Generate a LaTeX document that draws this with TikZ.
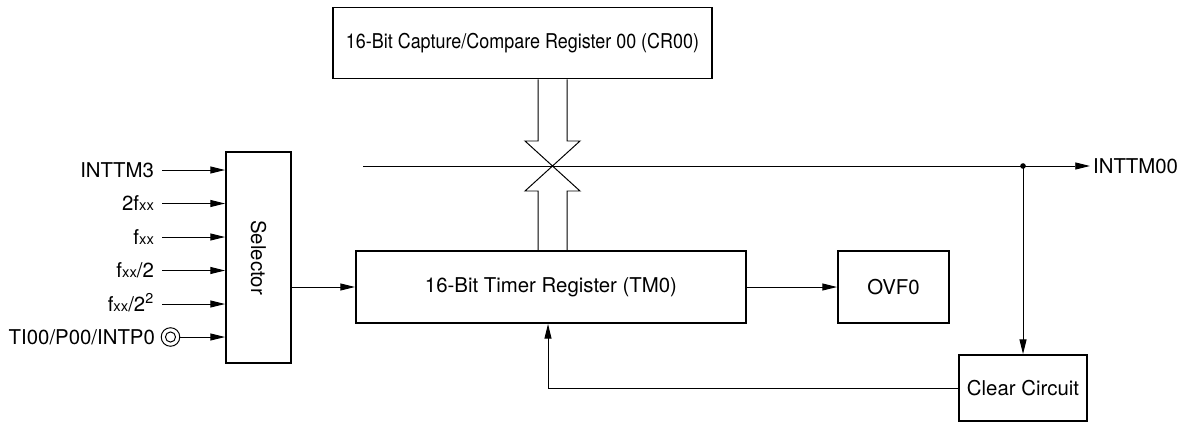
\documentclass[tikz,border=0pt]{standalone}
\usepackage{fontspec}
\setmainfont{TeX Gyre Heros}
\usetikzlibrary{arrows.meta,calc}

\newcommand{\fxx}{f{\fontsize{10.5}{10.5}\selectfont xx}}

\begin{document}
\begin{tikzpicture}[x=0.025cm,y=-0.025cm,
    font=\fontsize{14.5}{17}\selectfont,
    box/.style={draw,line width=1.3pt,inner sep=0pt},
    lbl/.style={inner sep=2pt,text height=10.4pt,text depth=0pt},
    sig/.style={line width=0.7pt,-{Triangle[length=10.5pt,width=5pt]}},
    wire/.style={line width=0.7pt}]

    \useasboundingbox (0,0) rectangle (1194,428);

    \node[box,minimum width=9.475cm,minimum height=1.775cm] (cap) at (522.5,43)
        {\scalebox{0.88}[1]{16-Bit Capture/Compare Register 00 (CR00)}};
    \node[box,minimum width=9.75cm,minimum height=1.8cm] (tmr) at (551,287)
        {16-Bit Timer Register (TM0)};
    \node[box,minimum width=2.775cm,minimum height=1.8cm] (ovf) at (893.5,287) {OVF0};
    \node[box,minimum width=3.2cm,minimum height=1.65cm] (clr) at (1023,388) {Clear Circuit};
    \node[box,minimum width=1.625cm,minimum height=5.275cm] (sel) at (258.5,257.5)
        {\rotatebox{-90}{Selector}};

    % inputs of the selector
    \foreach \txt [count=\i] in {INTTM3, 2\fxx, \fxx, \fxx/2, \fxx/2\textsuperscript{2}} {
        \node[lbl,anchor=east] (in\i) at (157,136.5+33.5*\i) {\txt};
        \draw[sig] ($(in\i.east)+(5,0)$) -- (sel.west |- in\i.east);
    }
    \node[lbl,anchor=east] (ti) at (158,337) {TI00/P00/INTP0};
    \draw[wire] (170.5,337) circle (6.6pt) circle (3.6pt);
    \coordinate (pin) at (180,337);
    \draw[sig] (pin) -- (sel.west |- pin);

    \draw[sig] (sel.east |- tmr.west) -- (tmr.west);
    \draw[sig] (tmr.east) -- (ovf.west);

    % compare bus
    \coordinate (X) at (552.5,166);
    \coordinate (bl) at ($(X)+(-14.5,0)$);
    \coordinate (br) at ($(X)+(14.5,0)$);
    \draw[wire] (cap.south -| bl) -- ($(X)+(-14.5,-25)$) -- ($(X)+(-27.5,-25)$) -- (X)
        -- ($(X)+(27.5,-25)$) -- ($(X)+(14.5,-25)$) -- (cap.south -| br);
    \draw[wire] (tmr.north -| bl) -- ($(X)+(-14.5,25)$) -- ($(X)+(-27.5,25)$) -- (X)
        -- ($(X)+(27.5,25)$) -- ($(X)+(14.5,25)$) -- (tmr.north -| br);

    % match output
    \coordinate (hl) at (363,166);
    \node[lbl,anchor=west] (out) at (1090,166) {INTTM00};
    \coordinate (dot) at (clr.north |- X);
    \draw[sig] (hl) -- (out.west);
    \fill (dot) circle (2pt);
    \draw[sig] (dot) -- (clr.north);
    \draw[sig] (clr.west) -| ($(tmr.south)+(-3,0)$);

\end{tikzpicture}
\end{document}
